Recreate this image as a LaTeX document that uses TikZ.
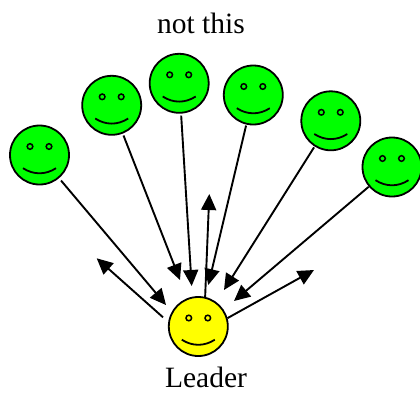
\documentclass[tikz,border=0pt]{standalone}
\usepackage{fontspec}
\setmainfont{Liberation Serif}
\usetikzlibrary{arrows.meta}
\definecolor{facegreen}{RGB}{0,255,0}
\definecolor{faceyellow}{RGB}{255,255,0}
\begin{document}
\begin{tikzpicture}[x=1bp,y=-1bp,
  face/.style={circle,draw=black,line width=1.8bp,minimum size=59bp,inner sep=0pt,fill=#1,
    path picture={
      \begin{scope}[shift={(path picture bounding box.center)},x=1bp,y=-1bp,line width=1.5bp]
        \draw (-9.5,-8.5) circle[radius=2.8bp];
        \draw (9.5,-8.5) circle[radius=2.8bp];
        \draw[line width=1.8bp] (-16.5,13.2) .. controls (-6,20) and (6,20) .. (16.5,13.2);
      \end{scope}
    }},
  conn/.style={line width=1.9bp,-{Triangle[length=16bp,width=15bp]}},
  lbl/.style={font=\fontsize{29.5bp}{34bp}\selectfont,inner sep=0pt,anchor=base}
]
\useasboundingbox (0,0) rectangle (420,394);
% faces
\node[face=facegreen] (f1) at (39.5,155) {};
\node[face=facegreen] (f2) at (111.7,105.3) {};
\node[face=facegreen] (f3) at (179.2,83.3) {};
\node[face=facegreen] (f4) at (253.3,95) {};
\node[face=facegreen] (f5) at (330.8,120.8) {};
\node[face=facegreen] (f6) at (392,167) {};
\node[face=faceyellow] (L) at (198.3,326.5) {};
% labels
\node[lbl] (title) at (201,33) {not this};
\node[lbl] (lead) at (206,387) {Leader};
% arrow end points
\coordinate (t1) at (166,305);
\coordinate (t2) at (180,280);
\coordinate (t3) at (191.7,286);
\coordinate (t4) at (208.3,285);
\coordinate (t5) at (224,290);
\coordinate (t6) at (234,301);
\coordinate (up) at (209.3,194);
\coordinate (ls) at (163,317.3);
\coordinate (lo) at (96.7,258.3);
\coordinate (ro) at (314,270);
% incoming
\draw[conn,shorten <=3bp] (f1) -- (t1);
\draw[conn,shorten <=2bp] (f2) -- (t2);
\draw[conn,shorten <=2bp] (f3) -- (t3);
\draw[conn,shorten <=1bp] (f4) -- (t4);
\draw[conn,shorten <=1bp] (f5) -- (t5);
\draw[conn] (f6) -- (t6);
% outgoing
\draw[conn] (L.77) -- (up);
\draw[conn] (ls) -- (lo);
\draw[conn] (L.16) -- (ro);
\end{tikzpicture}
\end{document}
